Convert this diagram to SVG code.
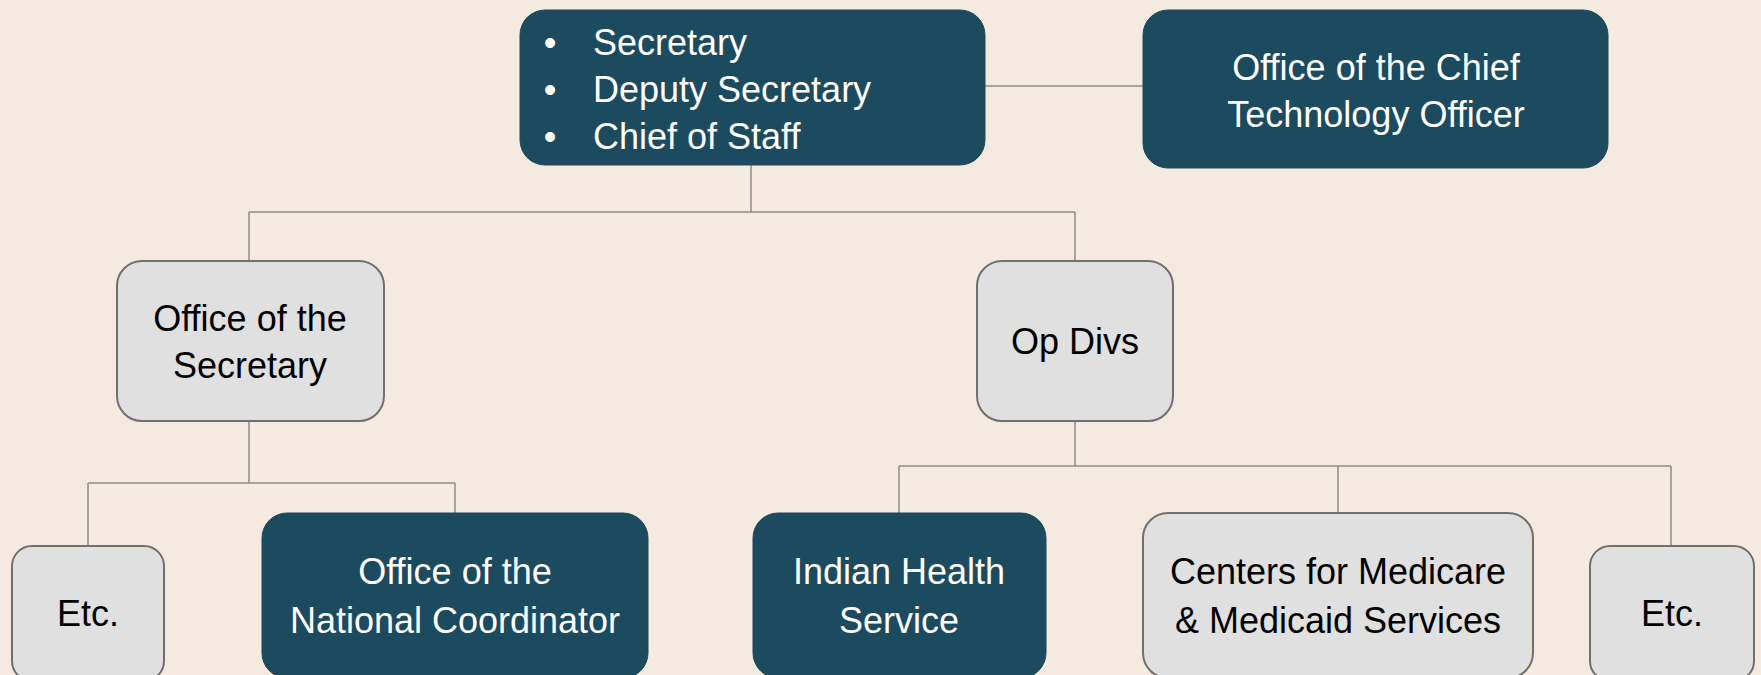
<svg xmlns="http://www.w3.org/2000/svg" width="1761" height="675" viewBox="0 0 1761 675">
<style>
.bg{fill:#F5EAE0}
.dark{fill:#1C4A5F;stroke:#1C4A5F;stroke-width:1}
.light{fill:#E0E0E0;stroke:#707070;stroke-width:2}
.conn{fill:none;stroke:#8C8C8C;stroke-width:1.5}
text{font-family:"Liberation Sans",Arial,sans-serif;font-size:36px}
.w{fill:#FFFFFF}
.k{fill:#000000}
.c{text-anchor:middle}
</style>
<rect class="bg" x="0" y="0" width="1761" height="675"/>
<g id="connectors">
<path class="conn" d="M985 86H1143"/>
<path class="conn" d="M751 165V212M249 212H1075M249 212V261M1075 212V261"/>
<path class="conn" d="M249 421V483M88 483H455M88 483V546M455 483V513"/>
<path class="conn" d="M1075 421V466M899 466H1671M899 466V513M1338 466V513M1671 466V546"/>
</g>
<g id="leadership">
<rect class="dark" x="520" y="10" width="465" height="155" rx="25"/>
<text class="w" x="550" y="55" text-anchor="middle">•</text>
<text class="w" x="593" y="55">Secretary</text>
<text class="w" x="550" y="102" text-anchor="middle">•</text>
<text class="w" x="593" y="102">Deputy Secretary</text>
<text class="w" x="550" y="149" text-anchor="middle">•</text>
<text class="w" x="593" y="149">Chief of Staff</text>
</g>
<g id="cto">
<rect class="dark" x="1143" y="10" width="465" height="158" rx="25"/>
<text class="w c" x="1376" y="80">Office of the Chief</text>
<text class="w c" x="1376" y="127">Technology Officer</text>
</g>
<g id="office-secretary">
<rect class="light" x="117" y="261" width="267" height="160" rx="25"/>
<text class="k c" x="250" y="331">Office of the</text>
<text class="k c" x="250" y="378">Secretary</text>
</g>
<g id="op-divs">
<rect class="light" x="977" y="261" width="196" height="160" rx="25"/>
<text class="k c" x="1075" y="354">Op Divs</text>
</g>
<g id="etc-left">
<rect class="light" x="12" y="546" width="152" height="135" rx="20"/>
<text class="k c" x="88" y="626">Etc.</text>
</g>
<g id="onc">
<rect class="dark" x="262" y="513" width="386" height="165" rx="25"/>
<text class="w c" x="455" y="584">Office of the</text>
<text class="w c" x="455" y="633">National Coordinator</text>
</g>
<g id="ihs">
<rect class="dark" x="753" y="513" width="293" height="165" rx="25"/>
<text class="w c" x="899" y="584">Indian Health</text>
<text class="w c" x="899" y="633">Service</text>
</g>
<g id="cms">
<rect class="light" x="1143" y="513" width="390" height="165" rx="25"/>
<text class="k c" x="1338" y="584">Centers for Medicare</text>
<text class="k c" x="1338" y="633">&amp; Medicaid Services</text>
</g>
<g id="etc-right">
<rect class="light" x="1590" y="546" width="164" height="135" rx="20"/>
<text class="k c" x="1672" y="626">Etc.</text>
</g>
</svg>
